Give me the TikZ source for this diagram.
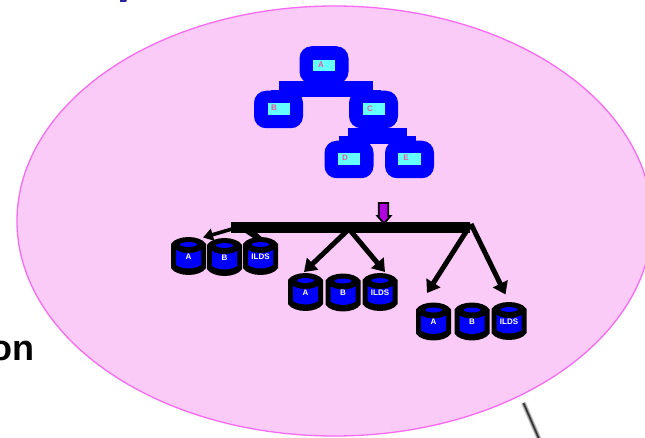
\documentclass[tikz,border=0pt]{standalone}
\usepackage{fontspec}
\setmainfont{Liberation Sans}
\usetikzlibrary{arrows.meta}
\definecolor{lilac}{HTML}{FBCBF8}
\definecolor{edgepink}{HTML}{F76BF0}
\definecolor{treeblue}{HTML}{0000FF}
\definecolor{cyanfill}{HTML}{66FFFF}
\definecolor{labelpink}{HTML}{E8559F}
\definecolor{purplefill}{HTML}{B000E0}
\definecolor{navybit}{HTML}{2A2A9A}
\tikzset{
  x=1pt,y=-1pt,
  treebox/.style={fill=treeblue,rounded corners=12pt,minimum width=49pt,minimum height=37.5pt,inner sep=0pt,draw=none},
  treelabel/.style={fill=cyanfill,minimum width=22.5pt,minimum height=11.5pt,inner sep=0pt,font=\bfseries\fontsize{8}{9}\selectfont,text=labelpink},
  disklabel/.style={text=white,font=\bfseries\fontsize{8}{9}\selectfont,inner sep=0pt},
  fat/.style={draw=black,line width=5pt,-{Triangle[length=12pt,width=16pt]}},
}
\newcommand{\disk}[4]{%
  \fill[black] (#1-17.5,#2-12) .. controls (#1-12,#2-21.3) and (#1+12,#2-21.3) .. (#1+17.5,#2-12)
     -- (#1+17.5,#2+12) .. controls (#1+12,#2+21.3) and (#1-12,#2+21.3) .. (#1-17.5,#2+12) -- cycle;
  \fill[treeblue] (#1-12.5,#2-6) .. controls (#1-6,#2-2) and (#1+6,#2-2) .. (#1+12.5,#2-6)
     -- (#1+12.5,#2+9) .. controls (#1+6,#2+13.5) and (#1-6,#2+13.5) .. (#1-12.5,#2+9) -- cycle;
  \fill[treeblue] (#1,#2-11.5) ellipse [x radius=8.5, y radius=2.4];
  \node[disklabel] (#4) at (#1,#2+0.5) {#3};
}
\begin{document}
\begin{tikzpicture}
\useasboundingbox (0,0) rectangle (645,438);
\fill[white] (0,0) rectangle (645,438);
\fill[navybit] (120,0) -- (127,0) -- (126,2) -- (120,2) -- cycle;
\draw[edgepink,fill=lilac,line width=1.3pt] (334.5,221) ellipse [x radius=317.5, y radius=215];
% tree
\fill[treeblue] (279,81) rectangle (373,97);
\fill[treeblue] (271,90) rectangle (381,97);
\fill[treeblue] (348,128) rectangle (407,144);
\fill[treeblue] (339,136) rectangle (416,144);
\node[treebox] (nA) at (324,65) {};
\node[treebox] (nB) at (278.5,109.5) {};
\node[treebox] (nC) at (373.5,109.5) {};
\node[treebox] (nD) at (349,159.5) {};
\node[treebox] (nE) at (409.5,159.5) {};
\node[treelabel] (lA) at (324,65.5) {\hspace{-6pt}\raisebox{1.5pt}{A}};
\node[treelabel] (lB) at (279,109) {\hspace{-10pt}\raisebox{1.5pt}{B}};
\node[treelabel] (lC) at (374,109) {\hspace{-8pt}\raisebox{1.5pt}{C}};
\node[treelabel] (lD) at (349,159) {\hspace{-8pt}\raisebox{2pt}{D}};
\node[treelabel] (lE) at (409.5,159) {\hspace{-7pt}\raisebox{2pt}{E}};
% arrow
\draw[black,fill=purplefill,line width=1.8pt,line join=miter] (378.8,203) -- (388.2,203) -- (388.2,216) -- (390.5,216) -- (384,223.5) -- (377.5,216) -- (378.8,216) -- cycle;
% hidden arrow behind the third disk
\fill[black] (244,232) -- (256,232) -- (265,240) -- (256,240) -- cycle;
% disks
\disk{188.5}{256}{A}{d1}
\disk{224.5}{257}{B}{d2}
\disk{260.5}{256}{ILDS}{d3}
\disk{305.5}{292}{A}{d4}
\disk{343}{292.5}{B}{d5}
\disk{380}{292}{ILDS}{d6}
\disk{433.5}{321.5}{A}{d7}
\disk{472}{321.5}{B}{d8}
\disk{509}{321}{ILDS}{d9}
% bar
\fill[black] (231,222) rectangle (470,233);
\coordinate (s1) at (232,229);
\coordinate (s2) at (349,229);
\coordinate (s3) at (471,224);
\coordinate (t1) at (203,237.5);
\coordinate (t4) at (304,272);
\coordinate (t5) at (385,272);
\coordinate (t7) at (427,293);
\coordinate (t8) at (505.5,294.5);
\draw[draw=black,line width=3.6pt,-{Triangle[length=10pt,width=12pt]}] (s1) -- (t1);
\draw[fat] (s2) -- (t4);
\draw[fat] (s2) -- (t5);
\draw[fat] (s3) -- (t7);
\draw[fat] (s3) -- (t8);
% edge of a line at the bottom right
\coordinate (g1) at (523.5,403);
\coordinate (g2) at (539.5,440);
\draw[gray!35,line width=5pt] (g1) -- (g2);
\draw[gray!75,line width=3.5pt] (g1) -- (g2);
\draw[black!80,line width=1.6pt] (g1) -- (g2);
\begin{scope}
\clip (0,0) rectangle (645,438);
\node[anchor=base east,inner sep=0pt,font=\bfseries\fontsize{36}{38}\selectfont,text=black] (on) at (35,360.5) {on};
\end{scope}
\end{tikzpicture}
\end{document}
